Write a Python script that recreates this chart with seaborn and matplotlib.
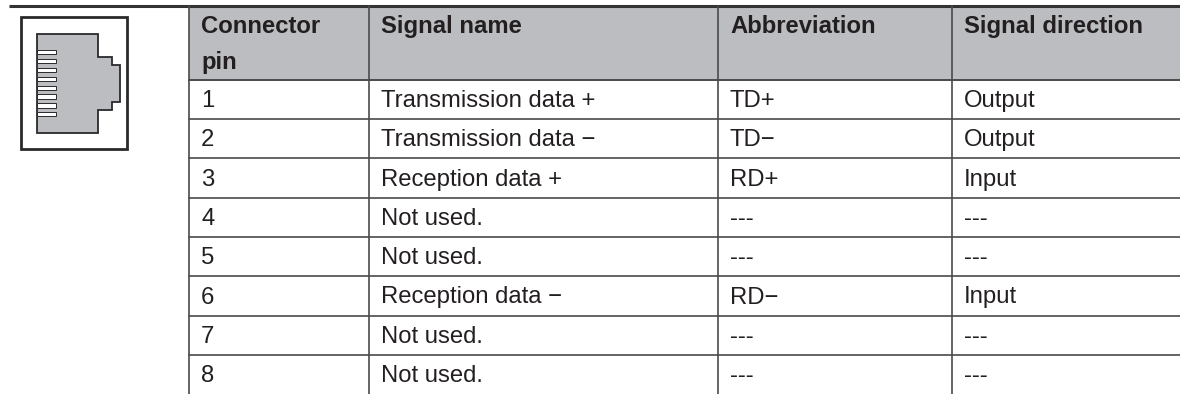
import matplotlib
matplotlib.use("Agg")
import numpy as np
import matplotlib.pyplot as plt
import seaborn as sns
from matplotlib.patches import Polygon, Rectangle

# Table contents
headers = ["Connector\npin", "Signal name", "Abbreviation", "Signal direction"]
pins = ["1", "2", "3", "4", "5", "6", "7", "8"]
signal_names = ["Transmission data +", "Transmission data \u2212", "Reception data +", "Not used.",
                "Not used.", "Reception data \u2212", "Not used.", "Not used."]
abbreviations = ["TD+", "TD\u2212", "RD+", "---", "---", "RD\u2212", "---", "---"]
directions = ["Output", "Output", "Input", "---", "---", "Input", "---", "---"]

sns.set_theme(style="white")
plt.rcParams["font.family"] = ["Liberation Sans", "DejaVu Sans"]

INK = "#231f20"
GREY = "#bbbdc0"
LINE = "#4a4a4c"
W, H = 1180, 394

fig = plt.figure(figsize=(W / 100, H / 100), dpi=100, facecolor="white")
ax = fig.add_axes([0, 0, 1, 1])
ax.set_xlim(0, W)
ax.set_ylim(H, 0)
ax.axis("off")

col_x = [189, 369, 718, 952, 1180]
row_y = [5.5, 80, 119, 158, 198, 237, 276, 316, 355, 394]

# header band is a one cell heatmap
band = fig.add_axes([col_x[0] / W, 1 - row_y[1] / H, (W - col_x[0]) / W, (row_y[1] - row_y[0]) / H])
sns.heatmap(np.array([[0]]), ax=band, cmap=[GREY], cbar=False, xticklabels=False, yticklabels=False)
band.set_zorder(0)
ax.set_zorder(1)
ax.patch.set_alpha(0)

# grid
ax.plot([9, W], [row_y[0]] * 2, color="#333335", lw=2.2, solid_capstyle="butt")
for x in col_x[:-1]:
    ax.plot([x, x], [row_y[0], H], color=LINE, lw=1.2)
for y in row_y[1:-1]:
    ax.plot([col_x[0], W], [y, y], color=LINE, lw=1.2 if y > 80 else 1.4)

# text
pad = 12
fs = 17.2
for x, h in zip(col_x, headers):
    lines = h.split("\n")
    for i, s in enumerate(lines):
        ax.text(x + pad, 33 + i * 36, s, fontsize=fs, fontweight="bold", color=INK, va="baseline")
for i in range(len(pins)):
    y = (row_y[i + 1] + row_y[i + 2]) / 2 + 7.5
    for x, col in zip(col_x, [pins, signal_names, abbreviations, directions]):
        ax.text(x + pad, y, col[i], fontsize=fs, color=INK, va="baseline")

# connector icon
ax.add_patch(Rectangle((20.5, 17), 106, 132, fc="white", ec="#2a2a2c", lw=2))
jack = [(37, 34), (98, 34), (98, 56.5), (112, 56.5), (112, 65), (120, 65), (120, 102),
        (112, 102), (112, 110), (98, 110), (98, 133), (37, 133)]
ax.add_patch(Polygon(jack, closed=True, fc=GREY, ec="#2a2a2c", lw=1.3))
for i in range(8):
    ax.add_patch(Rectangle((37, 50.2 + i * 8.85), 18.5, 4.2, fc="white", ec="#2a2a2c", lw=0.7))

fig.savefig("out.png", dpi=100)
